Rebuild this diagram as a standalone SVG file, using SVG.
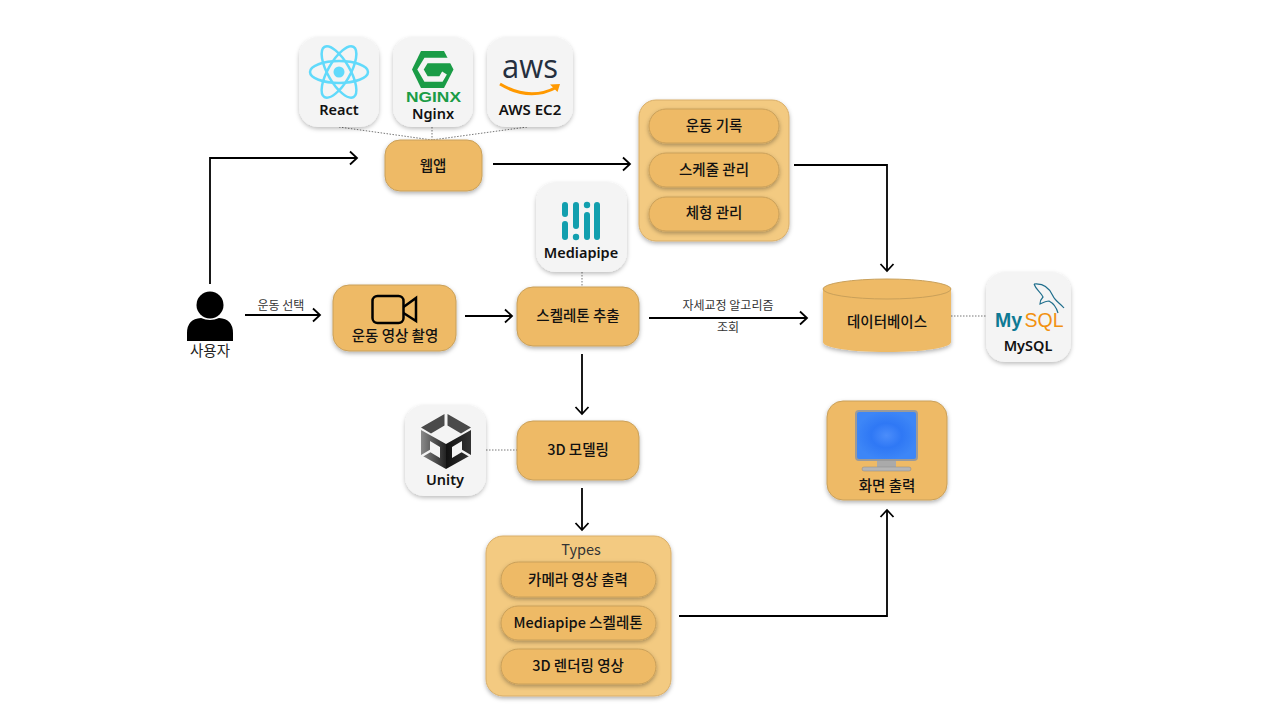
<svg xmlns="http://www.w3.org/2000/svg" width="1280" height="720" viewBox="0 0 1280 720">
<defs>
<filter id="sh" x="-20%" y="-20%" width="140%" height="140%"><feDropShadow dx="0" dy="2" stdDeviation="2" flood-color="#000" flood-opacity=".3"/></filter>
<filter id="sc" x="-20%" y="-20%" width="140%" height="140%"><feDropShadow dx="0" dy="2" stdDeviation="2.200" flood-color="#000" flood-opacity=".25"/></filter>
<radialGradient id="scr"><stop offset="0" stop-color="#4b8dfb"/><stop offset=".5" stop-color="#2f78f5"/><stop offset="1" stop-color="#3d86f7"/></radialGradient>
<linearGradient id="ul"><stop offset="0" stop-color="#8a8a8a"/><stop offset="1" stop-color="#222"/></linearGradient>
<linearGradient id="ur"><stop offset="0" stop-color="#111"/><stop offset="1" stop-color="#333"/></linearGradient>
<marker id="a" markerUnits="userSpaceOnUse" markerWidth="14" markerHeight="18" refX="11" refY="8" orient="auto"><path d="M4 1.500 L11 8 L4 14.500" fill="none" stroke="#000" stroke-width="1.800"/></marker>
</defs>
<style>
text{font-family:"Noto Sans CJK KR","Noto Sans",sans-serif;text-anchor:middle;fill:#111}
.n{fill:#eeba66;stroke:#c9a05a;stroke-width:1;filter:url(#sh)}
.p{fill:#f3ca81;stroke:#d9ae68;stroke-width:1;filter:url(#sh)}
.c{fill:#f4f4f4;filter:url(#sc)}
.t{font-size:14.500px;font-weight:500}
.l{font-size:12px;fill:#333}
.k{font-size:14.500px;font-weight:600;font-family:"Noto Sans","Noto Sans CJK KR",sans-serif}
.e{fill:none;stroke:#000;stroke-width:1.800;marker-end:url(#a)}
.d{fill:none;stroke:#777;stroke-width:1;stroke-dasharray:1.500 1.500}
</style>
<rect width="1280" height="720" fill="#fff"/>
<g id="connectors">
<path class="e" d="M210 284V158H357"/>
<path class="e" d="M493 164H630"/>
<path class="e" d="M794 165H887V271"/>
<path class="e" d="M245 315H320"/>
<path class="e" d="M465 316H512"/>
<path class="e" d="M649 318H807"/>
<path class="e" d="M582 354V414"/>
<path class="e" d="M582 488V530"/>
<path class="e" d="M679 616H887V510"/>
<path class="d" d="M339 127L432 140M432 127V140M527 127L432 140"/>
<path class="d" d="M582 272V287"/>
<path class="d" d="M951 316H986"/>
<path class="d" d="M486 450H517"/>
<text class="l" x="281" y="310">운동 선택</text>
<text class="l" x="728" y="310">자세교정 알고리즘</text>
<text class="l" x="728" y="332">조회</text>
</g>
<g id="react">
<rect class="c" x="299" y="37" width="80" height="90" rx="19"/>
<g fill="none" stroke="#61dafb" stroke-width="2.500">
<ellipse cx="339" cy="72" rx="29" ry="11"/>
<ellipse cx="339" cy="72" rx="29" ry="11" transform="rotate(60 339 72)"/>
<ellipse cx="339" cy="72" rx="29" ry="11" transform="rotate(120 339 72)"/>
</g>
<circle cx="339" cy="72" r="5.500" fill="#61dafb"/>
<text class="k" x="339" y="115">React</text>
</g>
<g id="nginx">
<rect class="c" x="393" y="37" width="80" height="90" rx="19"/>
<path d="M421 51H444L453.500 69.500L444 88H421L412 69.500Z" fill="#1a9c46"/>
<path d="M456 60.500H426L420.500 69.500L426 79H441L444.500 73" fill="none" stroke="#f4f4f4" stroke-width="5.500"/>
<text x="433.500" y="102" textLength="55" lengthAdjust="spacingAndGlyphs" style="font-family:'Liberation Sans',sans-serif;font-weight:700;font-size:15.500px;fill:#1a9c46">NGINX</text>
<text class="k" x="433" y="119">Nginx</text>
</g>
<g id="aws">
<rect class="c" x="487" y="37" width="86" height="90" rx="19"/>
<text x="530" y="78" textLength="56" lengthAdjust="spacingAndGlyphs" style="font-family:'Open Sans',sans-serif;font-size:33px;fill:#252f3e;font-weight:400">aws</text>
<path d="M500 84Q530 102 557 87" fill="none" stroke="#f90" stroke-width="3"/>
<path d="M550 84.500L560 84 557.500 92Z" fill="#f90"/>
<text class="k" x="530" y="115" style="font-size:15px">AWS EC2</text>
</g>
<g id="webapp"><rect class="n" x="385" y="140" width="97" height="51" rx="15"/><text class="t" x="433" y="171">웹앱</text></g>
<g id="features">
<rect class="p" x="639" y="100" width="150" height="141" rx="17"/>
<rect class="n" x="649" y="109" width="130" height="34" rx="17"/><text class="t" x="714" y="131">운동 기록</text>
<rect class="n" x="649" y="153" width="130" height="34" rx="17"/><text class="t" x="714" y="175">스케줄 관리</text>
<rect class="n" x="649" y="197" width="130" height="34" rx="17"/><text class="t" x="714" y="218">체형 관리</text>
</g>
<g id="user">
<circle cx="210" cy="305" r="13.500" fill="#000"/>
<path d="M187 341V333Q187 319 201 318Q210 322 219 318Q233 319 233 333V341Z" fill="#000"/>
<text x="210" y="356" style="font-size:14.500px;fill:#222">사용자</text>
</g>
<g id="capture">
<rect class="n" x="333" y="285" width="123" height="66" rx="16"/>
<rect x="372.500" y="296" width="31" height="27" rx="5" fill="none" stroke="#000" stroke-width="2.500"/>
<path d="M403.500 307L416 298V321L403.500 313" fill="none" stroke="#000" stroke-width="2.500"/>
<text class="t" x="395" y="341">운동 영상 촬영</text>
</g>
<g id="mediapipe">
<rect class="c" x="536" y="182" width="91" height="90" rx="20"/>
<g fill="#129fae">
<rect x="562" y="202" width="6" height="15" rx="3"/><rect x="562" y="221" width="6" height="19" rx="3"/>
<rect x="573" y="202" width="6" height="27" rx="3"/><circle cx="576" cy="237" r="3.200"/>
<circle cx="587" cy="205" r="3.200"/><rect x="584" y="212" width="6" height="28" rx="3"/>
<rect x="594" y="202" width="6" height="38" rx="3"/>
</g>
<text class="k" x="581" y="258">Mediapipe</text>
</g>
<g id="skeleton"><rect class="n" x="517" y="287" width="122" height="59" rx="16"/><text class="t" x="578" y="321">스켈레톤 추출</text></g>
<g id="database">
<path d="M823 289V342C823 348 852 352 887 352S951 348 951 342V289Z" fill="#eeba66" filter="url(#sh)"/>
<ellipse cx="887" cy="289" rx="64" ry="10" fill="#eeba66" stroke="#c9a05a"/>
<text class="t" x="887" y="327">데이터베이스</text>
</g>
<g id="mysql">
<rect class="c" x="986" y="272" width="85" height="90" rx="19"/>
<path d="M1034 284C1044 283 1050 289 1053 296C1055 301 1060 303 1064 308M1034 284C1036 290 1041 292 1043 297C1041 299 1040 302 1040 304C1044 302 1047 301 1049 301C1053 303 1056 306 1058 313" fill="none" stroke="#1f6e8c" stroke-width="1.200"/>
<text x="995" y="327" style="text-anchor:start;font-family:'Liberation Sans',sans-serif;font-size:19.500px;font-weight:700;fill:#0f7a94">My</text>
<text x="1024.500" y="327" style="text-anchor:start;font-family:'Liberation Sans',sans-serif;font-size:19.500px;font-weight:400;fill:#f29111">SQL</text>
<text class="k" x="1028" y="351">MySQL</text>
</g>
<g id="unity">
<rect class="c" x="405" y="405" width="81" height="91" rx="19"/>
<path d="M421 430L446 444V469L421 455Z" fill="url(#ul)"/>
<path d="M471 430L446 444V469L471 455Z" fill="url(#ur)"/>
<path d="M444.500 414L421 427.500L431 433.500L444.500 425.500ZM447.500 414L471 427.500L461 433.500L447.500 425.500Z" fill="#4a4a4a"/>
<path d="M430 441L440 447V458L430 452ZM462 441L452 447V458L462 452Z" fill="#f4f4f4"/>
<path d="M420 457L431 450.500M472 457L461 450.500" stroke="#f4f4f4" stroke-width="2.500" fill="none"/>
<text class="k" x="445" y="485">Unity</text>
</g>
<g id="modeling"><rect class="n" x="517" y="421" width="122" height="59" rx="16"/><text class="t" x="578" y="455">3D 모델링</text></g>
<g id="types">
<rect class="p" x="486" y="536" width="185" height="160" rx="17"/>
<text x="581" y="555" style="font-size:14.500px;fill:#333">Types</text>
<rect class="n" x="501" y="562" width="155" height="35" rx="17.500"/><text class="t" x="578" y="585">카메라 영상 출력</text>
<rect class="n" x="501" y="606" width="155" height="34" rx="17"/><text class="t" x="578" y="628">Mediapipe 스켈레톤</text>
<rect class="n" x="501" y="649" width="155" height="35" rx="17.500"/><text class="t" x="578" y="671">3D 렌더링 영상</text>
</g>
<g id="display">
<rect class="n" x="827" y="401" width="120" height="99" rx="16"/>
<rect x="856" y="411" width="61" height="49" rx="3" fill="url(#scr)" stroke="#9a9a9a" stroke-width="2"/>
<rect x="877" y="461" width="19" height="7" fill="#aaa"/>
<rect x="862" y="467" width="49" height="4" rx="2" fill="#b5b5b5" stroke="#888" stroke-width=".5"/>
<text class="t" x="887" y="491">화면 출력</text>
</g>
</svg>
